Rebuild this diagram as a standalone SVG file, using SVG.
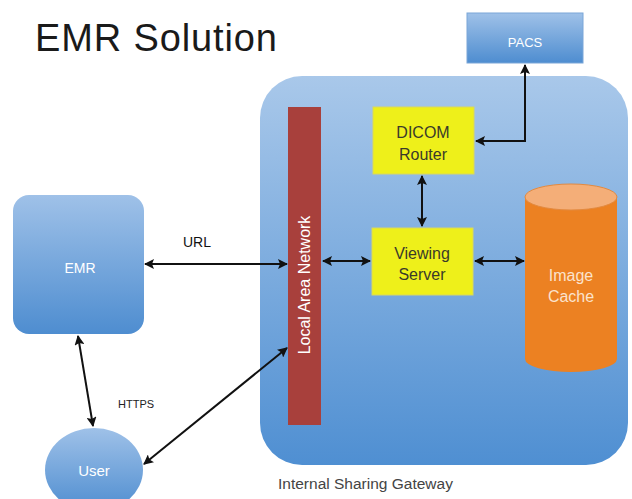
<svg xmlns="http://www.w3.org/2000/svg" width="632" height="499" viewBox="0 0 632 499">
<style>
text{font-family:"Liberation Sans",Arial,sans-serif}
.w{fill:#ffffff}
.d{fill:#3a3a2a}
.c{stroke:#111;stroke-width:2;fill:none;marker-start:url(#ah);marker-end:url(#ah)}
</style>
<defs>
<linearGradient id="gb" x1="0" y1="0" x2="0" y2="1"><stop offset="0" stop-color="#a9c8ea"/><stop offset="1" stop-color="#4f8fd2"/></linearGradient>
<linearGradient id="gs" x1="0" y1="0" x2="0" y2="1"><stop offset="0" stop-color="#9fc1e8"/><stop offset="1" stop-color="#4e8dd0"/></linearGradient>
<marker id="ah" viewBox="0 0 10 10" refX="9" refY="5" markerWidth="5" markerHeight="5" orient="auto-start-reverse" markerUnits="strokeWidth"><path d="M0,0 L10,5 L0,10 L2,5 Z" fill="#111"/></marker>
</defs>
<rect width="632" height="499" fill="#ffffff"/>
<text x="35" y="51" font-size="38" fill="#1a1a1a" textLength="242">EMR Solution</text>
<g id="gateway">
<rect x="260" y="76" width="368" height="389" rx="42" fill="url(#gb)"/>
<text x="278" y="489" font-size="15.5" fill="#444">Internal Sharing Gateway</text>
</g>
<g id="pacs">
<rect x="467" y="13" width="116" height="50" fill="url(#gs)" stroke="#7aa6d8" stroke-width="1"/>
<text x="525" y="47" font-size="13" class="w" text-anchor="middle">PACS</text>
</g>
<g id="lan">
<rect x="288" y="107" width="33" height="318" fill="#a8403c"/>
<text transform="translate(310,285) rotate(-90)" font-size="16" class="w" text-anchor="middle">Local Area Network</text>
</g>
<g id="dicom">
<rect x="373" y="107" width="101" height="67" fill="#eef01a" stroke="#d8d860" stroke-width="1"/>
<text x="423" y="138" font-size="16" class="d" text-anchor="middle">DICOM</text>
<text x="423" y="160" font-size="16" class="d" text-anchor="middle">Router</text>
</g>
<g id="viewing">
<rect x="372" y="228" width="101" height="67" fill="#eef01a" stroke="#d8d860" stroke-width="1"/>
<text x="422" y="259" font-size="16" class="d" text-anchor="middle">Viewing</text>
<text x="422" y="280" font-size="16" class="d" text-anchor="middle">Server</text>
</g>
<g id="cache">
<path d="M525,197 L525,359 A46,13 0 0 0 617,359 L617,197 Z" fill="#ec8122"/>
<ellipse cx="571" cy="197" rx="46" ry="13" fill="#f4ae78" stroke="#e38a40" stroke-width="1"/>
<text x="571" y="281" font-size="16" fill="#fbe3cd" text-anchor="middle">Image</text>
<text x="571" y="302" font-size="16" fill="#fbe3cd" text-anchor="middle">Cache</text>
</g>
<g id="emr">
<rect x="13" y="195" width="131" height="139" rx="16" fill="url(#gs)"/>
<text x="80" y="273" font-size="14" class="w" text-anchor="middle">EMR</text>
</g>
<g id="user">
<ellipse cx="94" cy="470" rx="49" ry="42" fill="url(#gs)"/>
<text x="94" y="476" font-size="15" class="w" text-anchor="middle">User</text>
</g>
<g id="connectors">
<line class="c" x1="145" y1="264" x2="287" y2="264"/>
<line class="c" x1="78" y1="336" x2="93" y2="426"/>
<line class="c" x1="144" y1="464" x2="287" y2="348"/>
<line class="c" x1="323" y1="261" x2="370" y2="261"/>
<line class="c" x1="475" y1="261" x2="524" y2="261"/>
<line class="c" x1="422" y1="176" x2="422" y2="226"/>
<polyline class="c" points="525,65 525,141 476,141"/>
<text x="183" y="247" font-size="14" fill="#111">URL</text>
<text x="118" y="408" font-size="11" fill="#222">HTTPS</text>
</g>
</svg>
